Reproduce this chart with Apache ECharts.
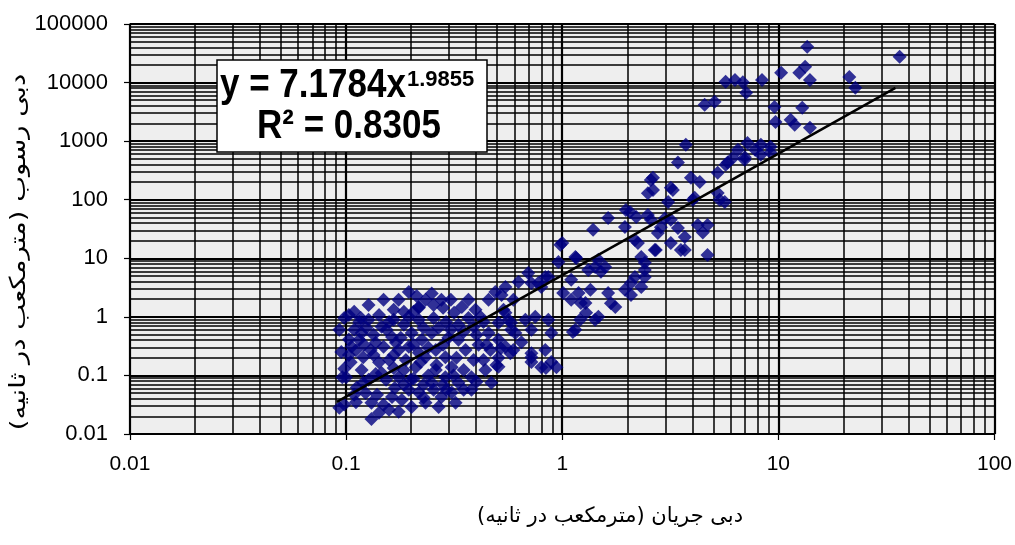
<!DOCTYPE html>
<html><head><meta charset="utf-8">
<script src="https://cdn.jsdelivr.net/npm/echarts@6/dist/echarts.min.js"></script>
<style>html,body{margin:0;padding:0;background:#fff}#c{width:1015px;height:545px}</style>
</head><body><div id="c"></div>
<script>
const xTickLabels = ['0.01', '0.1', '1', '10', '100'];
const yTickLabels = ['0.01', '0.1', '1', '10', '100', '1000', '10000', '100000'];
const xTitle = 'دبی جریان (مترمکعب در ثانیه)';
const yTitle = 'دبی رسوب (مترمکعب در ثانیه)';
const equationMain = 'y = 7.1784x';
const equationExponent = '1.9855';
const rSquaredText = 'R² = 0.8305';

// [discharge, sediment discharge]
const samples = [
  [0.093,0.60],[0.095,0.25],[0.096,0.093],[0.093,0.028],[0.098,0.032],
  [0.103,0.41],[0.106,0.31],[0.109,0.60],[0.111,0.27],[0.115,0.82],
  [0.118,0.53],[0.112,0.062],[0.10,0.093],[0.111,0.035],[0.123,0.05],
  [0.131,0.034],[0.142,0.023],[0.131,0.018],[0.158,0.026],[0.163,0.043],
  [0.181,0.038],[0.195,0.057],[0.217,0.051],[0.201,0.029],[0.233,0.034],
  [0.276,0.043],[0.308,0.051],[0.268,0.029],[0.321,0.034],[0.288,0.093],
  [0.331,0.075],[0.38,0.093],[0.441,0.124],[0.47,0.075],[0.38,0.057],
  [0.118,0.124],[0.127,0.084],[0.137,0.106],[0.153,0.084],[0.146,0.675],
  [0.137,0.36],[0.163,0.455],[0.175,0.273],[0.158,0.184],[0.189,0.184],
  [0.146,0.11],[0.175,0.093],[0.201,0.53],[0.224,0.405],[0.249,0.53],
  [0.26,0.273],[0.288,0.205],[0.233,0.205],[0.21,0.138],[0.308,0.138],
  [0.26,0.124],[0.331,0.405],[0.357,0.273],[0.249,2.5],[0.276,1.95],
  [0.233,1.95],[0.205,1.22],[0.195,1.0],[0.343,1.48],[0.316,1.17],
  [0.49,2.67],[0.627,3.95],[0.72,3.8],[0.835,4.8],[0.418,1.0],
  [0.389,0.675],[0.456,0.53],[0.507,0.79],[0.58,0.79],[0.675,0.89],
  [0.72,0.6],[0.607,0.53],[0.546,0.31],[0.72,0.205],[0.8,0.138],
  [0.835,0.273],[0.127,0.89],[0.142,1.08],[0.166,0.89],[0.185,0.73],
  [0.217,0.89],[0.254,0.96],[0.29,0.82],[0.331,0.73],[0.121,0.333],
  [0.134,0.224],[0.149,0.31],[0.17,0.36],[0.195,0.31],[0.217,0.245],
  [0.166,0.134],[0.185,0.069],[0.205,0.088],[0.228,0.069],[0.254,0.057],
  [0.281,0.069],[0.24,0.1],[0.389,0.184],[0.41,0.333],[0.35,0.555],
  [0.297,0.44],[0.268,0.65],[0.228,0.65],[0.105,0.168],[0.098,0.96],
  [0.109,1.22],[0.127,1.6],[0.149,1.95],[0.175,1.95],[0.195,2.67],
  [0.212,2.28],[0.166,1.32],[0.217,1.48],[0.281,1.43],[0.368,1.95],
  [0.397,1.32],[0.456,1.95],[0.535,1.32],[0.524,2.37],[0.594,1.95],
  [0.446,0.333],[0.507,0.2],[0.594,0.273],[0.647,0.37],[0.507,0.405],
  [0.103,1.08],[0.115,0.405],[0.124,0.65],[0.13,0.273],[0.142,0.168],
  [0.154,0.6],[0.166,0.224],[0.179,0.44],[0.185,0.124],[0.205,0.333],
  [0.221,0.168],[0.24,0.3],[0.262,0.151],[0.281,0.333],[0.305,0.6],
  [0.324,0.2],[0.35,0.124],[0.368,0.96],[0.401,0.493],[0.432,0.82],
  [0.465,0.273],[0.432,0.184],[0.496,0.151],[0.109,0.0466],[0.12,0.075],
  [0.139,0.0466],[0.149,0.0315],[0.168,0.061],[0.175,0.024],[0.199,0.084],
  [0.228,0.042],[0.249,0.075],[0.291,0.057],[0.35,0.057],[0.401,0.078],
  [0.314,0.1],[0.217,1.43],[0.254,1.6],[0.305,1.95],[0.158,0.82],
  [0.185,1.22],[0.117,0.96],[0.134,0.493],[0.103,0.224],[0.098,0.13],
  [0.12,0.205],
  [0.546,3.24],[0.696,5.6],[0.8,3.24],[0.862,4.8],[0.75,1.0],
  [0.862,0.89],[0.89,0.53],[0.564,0.89],[0.58,0.6],[0.52,0.29],
  [0.575,0.24],[0.72,0.24],[0.72,0.17],[0.89,0.17],[0.84,0.134],
  [0.94,0.138],[0.546,1.17],[0.775,3.8],[0.507,0.14],
  [1.63,48.7],[1.39,30.6],[1.0,18.2],[1.16,10.1],[0.96,8.6],
  [1.42,7.1],[1.47,9.4],[1.51,5.9],[1.32,6.3],[2.17,20.6],
  [2.32,10.5],[2.71,13.9],[1.95,34.2],[2.2,50.7],[2.06,61.7],
  [2.57,45.3],[2.86,34],[2.98,48],[2.41,6.3],[2.08,3.8],
  [2.08,2.37],[1.63,2.55],[1.76,1.48],[1.35,2.89],[1.19,2.55],
  [1.1,4.28],[1.28,1.73],[1.47,1.0],[1.29,1.17],[1.21,0.89],
  [1.12,0.55],[1.01,2.55],[0.98,17],[1.15,10.5],[1.58,7.1],
  [2.17,4.8],[2.41,4.8],[2.32,3.24],[1.95,2.89],[1.68,1.7],
  [1.22,1.73],[1.1,1.95],[1.42,0.89],[1.15,0.6],[1.97,67],
  [2.49,55],[3.18,45.3],[3.43,33],[4.24,37],[4.47,27.5],
  [4.7,37],[3.69,23],[3.18,18.2],[3.54,13.9],[2.77,27],
  [2.68,13.9],[2.24,18.2],[2.41,8.4],[4.7,11.4],[3.69,13.9],
  [2.63,147],[2.63,236],[3.18,160],[3.94,236],[4.33,200],
  [5.24,290],[5.83,430],[6.98,479],[8.29,583],[9.2,640],
  [5.35,99.5],[4.02,99.5],[4.1,108],[3.73,864],[3.43,430],
  [2.57,218],[2.49,129],[3.25,147],[5.24,130],[5.65,91],
  [3.09,91],[7.2,930],[8.3,864],[9.2,800],[6.15,515],
  [7.0,530],[5.7,394],[6.5,710],[7.8,710],
  [13.6,40700],[36.4,27500],[13.3,18600],[12.5,14700],[14.0,11100],
  [10.3,14700],[8.4,11100],[6.3,11100],[5.7,10300],[6.85,10100],
  [7.1,6670],[21.3,12500],[22.7,8130],[4.56,4170],[5.07,4690],
  [9.6,3830],[12.9,3700],[9.7,2120],[11.4,2310],[11.9,1900],[14.0,1700]
];

// trend line end points
const trendLine = [[0.0906, 0.0354], [34.8, 8130]];

function tickFormatter(labels) {
  return function (v) {
    const hit = labels.find(l => Math.abs(Math.log10(+l) - Math.log10(v)) < 1e-6);
    return hit || '';
  };
}

const chart = echarts.init(document.getElementById('c'), null, {renderer: 'canvas'});
function makeAxis(min, max, labels, margin, fontSize) {
  return {
    type: 'log', logBase: 10, min: min, max: max, interval: 1,
    axisLine: {show: true, lineStyle: {color: '#000', width: 1.5}},
    axisTick: {show: true, length: 6, inside: false, lineStyle: {color: '#000', width: 1.2}},
    minorTick: {show: false, splitNumber: 9},
    splitLine: {show: true, lineStyle: {color: '#000', width: 2.2}},
    minorSplitLine: {show: true, lineStyle: {color: '#000', width: 1.5}},
    axisLabel: {show: true, color: '#000', fontSize: fontSize, fontFamily: 'Arial', margin: margin, formatter: tickFormatter(labels)}
  };
}
chart.setOption({
  animation: false,
  backgroundColor: '#fff',
  grid: {left: 130, right: 18, top: 24, bottom: 111, show: true, backgroundColor: '#eeeeee', borderColor: '#888', borderWidth: 1},
  xAxis: makeAxis(0.01, 100, xTickLabels, 20, 21),
  yAxis: makeAxis(0.01, 100000, yTickLabels, 22, 22),
  series: [
    {type: 'scatter', data: samples, symbol: 'diamond', symbolSize: 14,
     itemStyle: {color: '#00007f'}, z: 2},
    {type: 'line', data: trendLine, symbol: 'none', lineStyle: {color: '#000', width: 2.5}, z: 3}
  ],
  graphic: [
    {type: 'rect', z: 100, shape: {x: 217, y: 60, width: 270, height: 92},
     style: {fill: '#fff', stroke: '#000', lineWidth: 1.5}},
    {type: 'text', z: 101, x: 220, y: 86, scaleY: 1.15,
     style: {text: equationMain, font: 'bold 35px "Liberation Sans", Arial, sans-serif', fill: '#000', align: 'left', verticalAlign: 'middle'}},
    {type: 'text', z: 101, x: 407, y: 80,
     style: {text: equationExponent, font: 'bold 22px "Liberation Sans", Arial, sans-serif', fill: '#000', align: 'left', verticalAlign: 'middle'}},
    {type: 'text', z: 101, x: 257, y: 127, scaleY: 1.15,
     style: {text: rSquaredText, font: 'bold 35px "Liberation Sans", Arial, sans-serif', fill: '#000', align: 'left', verticalAlign: 'middle'}},
    {type: 'text', z: 101, x: 19, y: 252, rotation: Math.PI / 2, scaleX: 1.25,
     style: {text: '\u202B' + yTitle + '\u202C', font: '22px "DejaVu Sans", sans-serif', fill: '#000', align: 'center', verticalAlign: 'middle'}},
    {type: 'text', z: 101, x: 610, y: 517,
     style: {text: '\u202B' + xTitle + '\u202C', font: '21px "DejaVu Sans", sans-serif', fill: '#000', align: 'center', verticalAlign: 'middle'}}
  ]
});
</script>
</body></html>
